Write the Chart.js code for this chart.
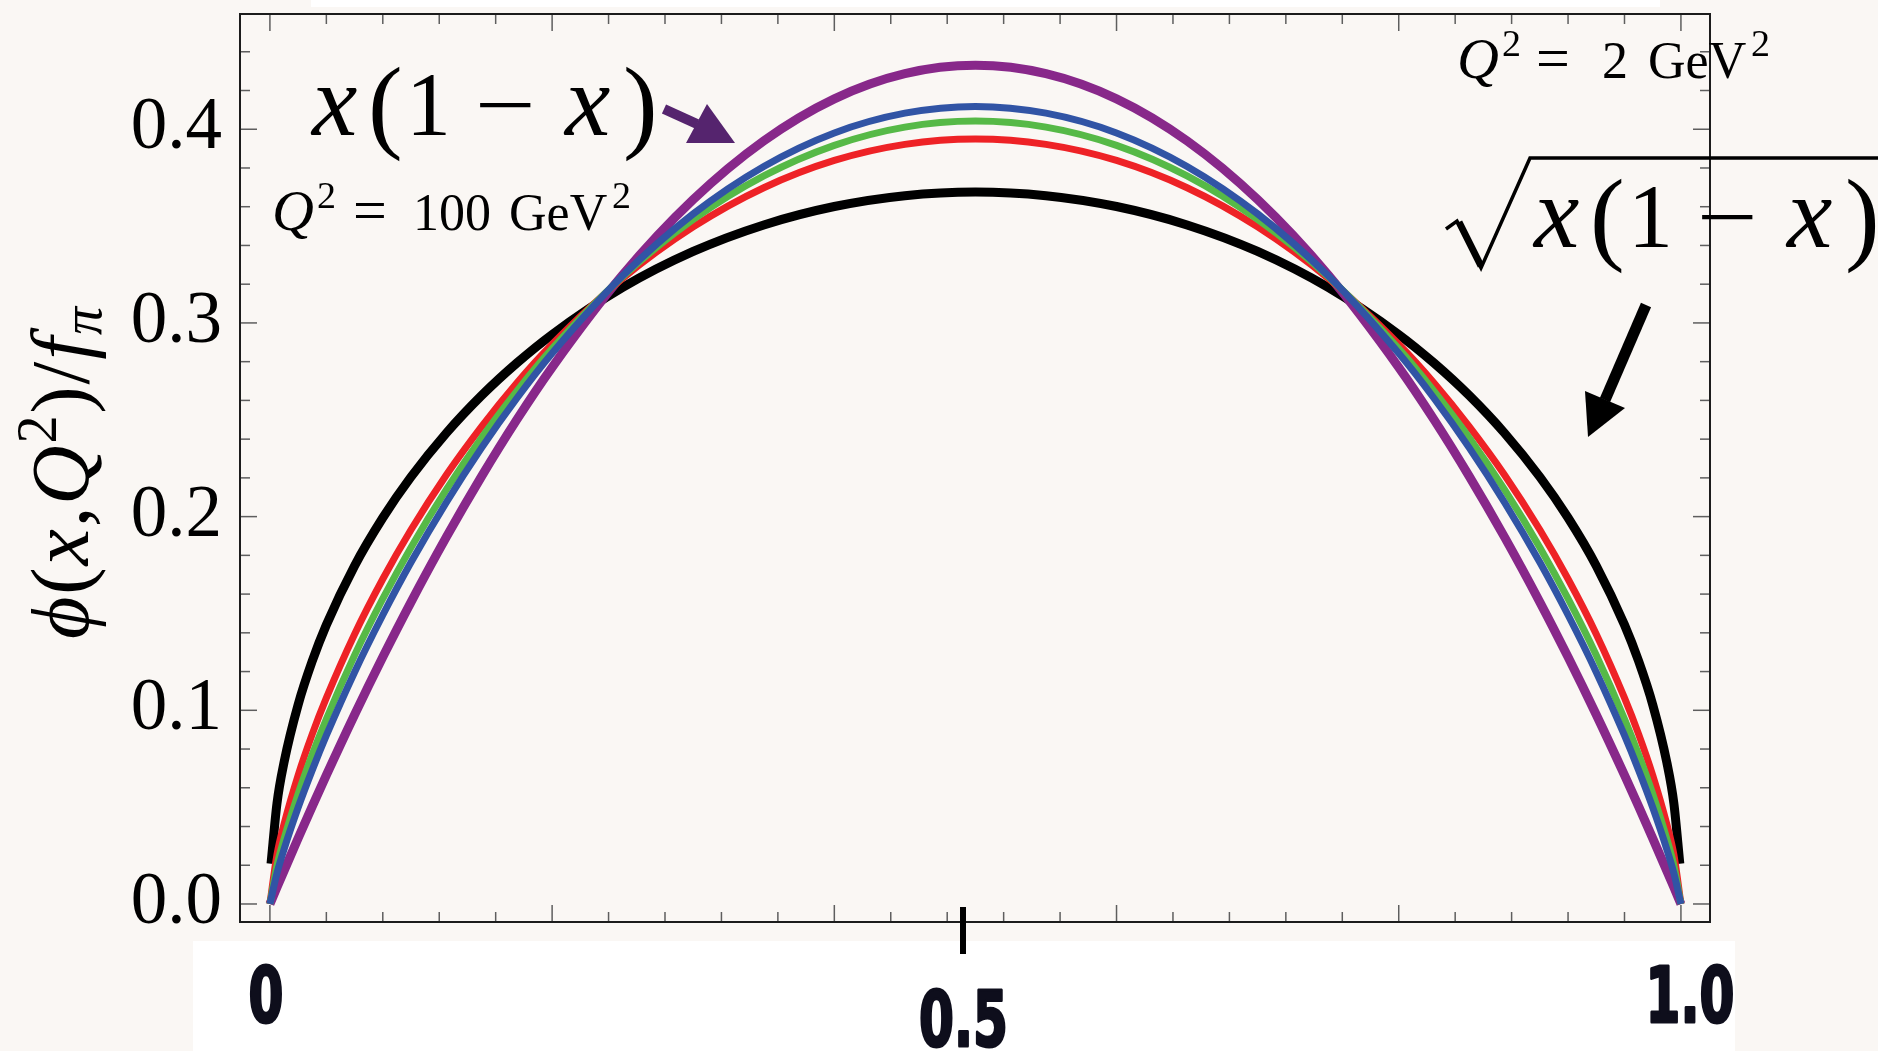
<!DOCTYPE html>
<html>
<head>
<meta charset="utf-8">
<script src="https://cdn.jsdelivr.net/npm/chart.js@4.4.1/dist/chart.umd.min.js"></script>
<style>
  html, body { margin: 0; padding: 0; background: #faf7f4; }
  #wrap { width: 1878px; height: 1051px; }
</style>
</head>
<body>
<div id="wrap"><canvas id="chart" width="1878" height="1051"></canvas></div>
<script>
// x grid shared by the evolved curves and x(1-x)
const xGrid = [0, 0.005, 0.01, 0.02, 0.03, 0.04, 0.06, 0.08, 0.1, 0.125, 0.15, 0.175, 0.2, 0.25, 0.3, 0.35, 0.4, 0.45, 0.5,
  0.55, 0.6, 0.65, 0.7, 0.75, 0.8, 0.825, 0.85, 0.875, 0.9, 0.92, 0.94, 0.96, 0.97, 0.98, 0.99, 0.995, 1];
// the sqrt curve is cut just short of the end points
const xSqrt = [0.0008, 0.005, 0.01, 0.02, 0.03, 0.04, 0.06, 0.08, 0.1, 0.125, 0.15, 0.175, 0.2, 0.25, 0.3, 0.35, 0.4, 0.45, 0.5,
  0.55, 0.6, 0.65, 0.7, 0.75, 0.8, 0.825, 0.85, 0.875, 0.9, 0.92, 0.94, 0.96, 0.97, 0.98, 0.99, 0.995, 0.9992];

const sqrtCurve = [0.0208, 0.0519, 0.0731, 0.1029, 0.1254, 0.1441, 0.1746, 0.1994, 0.2205, 0.2431, 0.2625, 0.2793, 0.2940, 0.3183, 0.3369, 0.3506, 0.3601, 0.3657, 0.3676,
  0.3657, 0.3601, 0.3506, 0.3369, 0.3183, 0.2940, 0.2793, 0.2625, 0.2431, 0.2205, 0.1994, 0.1746, 0.1441, 0.1254, 0.1029, 0.0731, 0.0519, 0.0208];
const asymptotic = [0, 0.0086, 0.0171, 0.0339, 0.0504, 0.0665, 0.0977, 0.1275, 0.1559, 0.1894, 0.2208, 0.2501, 0.2771, 0.3248, 0.3637, 0.3940, 0.4157, 0.4287, 0.4330,
  0.4287, 0.4157, 0.3940, 0.3637, 0.3248, 0.2771, 0.2501, 0.2208, 0.1894, 0.1559, 0.1275, 0.0977, 0.0665, 0.0504, 0.0339, 0.0171, 0.0086, 0];
const q2Low = [0, 0.0255, 0.0412, 0.0665, 0.0877, 0.1064, 0.1393, 0.1678, 0.1932, 0.2215, 0.2465, 0.2690, 0.2890, 0.3230, 0.3496, 0.3698, 0.3839, 0.3922, 0.3950,
  0.3922, 0.3839, 0.3698, 0.3496, 0.3230, 0.2890, 0.2690, 0.2465, 0.2215, 0.1932, 0.1678, 0.1393, 0.1064, 0.0877, 0.0665, 0.0412, 0.0255, 0];
const q2Mid = [0, 0.0198, 0.0336, 0.0569, 0.0772, 0.0955, 0.1284, 0.1576, 0.1841, 0.2139, 0.2407, 0.2648, 0.2867, 0.3239, 0.3534, 0.3759, 0.3917, 0.4011, 0.4042,
  0.4011, 0.3917, 0.3759, 0.3534, 0.3239, 0.2867, 0.2648, 0.2407, 0.2139, 0.1841, 0.1576, 0.1284, 0.0955, 0.0772, 0.0569, 0.0336, 0.0198, 0];
const q2High = [0, 0.0159, 0.0282, 0.0498, 0.0691, 0.0870, 0.1197, 0.1492, 0.1764, 0.2073, 0.2355, 0.2611, 0.2843, 0.3243, 0.3563, 0.3808, 0.3981, 0.4083, 0.4118,
  0.4083, 0.3981, 0.3808, 0.3563, 0.3243, 0.2843, 0.2611, 0.2355, 0.2073, 0.1764, 0.1492, 0.1197, 0.0870, 0.0691, 0.0498, 0.0282, 0.0159, 0];

const xLabelValues = [0, 0.5, 1];
const xLabelTexts = ['0', '0.5', '1.0'];
const xMinorStep = 0.04, xTickCount = 25;
const yMinorStep = 0.02, yTickCount = 22;
const majorEvery = 5;

const paper = '#faf7f4';
const serif = '"Liberation Serif", "DejaVu Serif", serif';

function pts(xs, ys) {
  return xs.map((x, i) => ({ x: x, y: ys[i] }));
}

function line(ctx, x1, y1, x2, y2) {
  ctx.beginPath();
  ctx.moveTo(x1, y1);
  ctx.lineTo(x2, y2);
  ctx.stroke();
}

function put(ctx, text, x, y, size, italic) {
  ctx.font = (italic ? 'italic ' : '') + size + 'px ' + serif;
  ctx.fillText(text, x, y);
  return ctx.measureText(text).width;
}

function arrow(ctx, color, tail, neck, tip, c1, c2, width) {
  ctx.strokeStyle = color;
  ctx.fillStyle = color;
  ctx.lineWidth = width;
  ctx.lineCap = 'butt';
  line(ctx, tail[0], tail[1], neck[0], neck[1]);
  ctx.beginPath();
  ctx.moveTo(tip[0], tip[1]);
  ctx.lineTo(c1[0], c1[1]);
  ctx.lineTo(c2[0], c2[1]);
  ctx.closePath();
  ctx.fill();
}

// x(1-x) drawn glyph by glyph, the way the TeX label is spaced
function bigFraction(ctx, left, base) {
  const g = [['x', 0, true], ['(', 56, false], ['1', 94, false], ['\u2212', 163, false], ['x', 253, true], [')', 311, false]];
  g.forEach(([t, dx, it]) => {
    if (t === '(' || t === ')') put(ctx, t, left + dx, base + 4, 104, false);
    else if (t === 'x') put(ctx, t, left + dx, base, 102, true);
    else if (t === '\u2212') {
      ctx.save();
      ctx.translate(left + dx, base);
      ctx.scale(1.2, 1);
      put(ctx, t, 0, 0, 90, false);
      ctx.restore();
    } else put(ctx, t, left + dx, base, 90, it);
  });
}

function q2Label(ctx, left, base, value) {
  let cx = left;
  cx += put(ctx, 'Q', cx, base, 58, true) + 3;
  put(ctx, '2', cx, base - 22, 38, false);
  return cx;
}

const framePlugin = {
  id: 'framePlugin',
  beforeDraw(chart) {
    const { ctx, width, height } = chart;
    ctx.save();
    ctx.fillStyle = paper;
    ctx.fillRect(0, 0, width, height);
    ctx.fillStyle = '#ffffff';
    ctx.fillRect(311, 0, 1349, 7);
    ctx.fillRect(193, 941, 1542, 110);
    ctx.restore();
  },
  beforeDatasetsDraw(chart) {
    const { ctx, chartArea: a, scales: { x, y } } = chart;
    ctx.save();
    ctx.strokeStyle = '#5e5e5e';
    ctx.lineWidth = 1.5;
    for (let i = 0; i <= xTickCount; i++) {
      const px = x.getPixelForValue(i * xMinorStep);
      const len = i % majorEvery === 0 ? 17 : 10;
      line(ctx, px, a.bottom, px, a.bottom - len);
      line(ctx, px, a.top, px, a.top + len);
    }
    for (let i = 0; i <= yTickCount; i++) {
      const py = y.getPixelForValue(i * yMinorStep);
      const len = i % majorEvery === 0 ? 17 : 10;
      line(ctx, a.left, py, a.left + len, py);
      line(ctx, a.right, py, a.right - len, py);
    }
    ctx.strokeStyle = '#1c1c1c';
    ctx.lineWidth = 2;
    ctx.strokeRect(a.left, a.top, a.right - a.left, a.bottom - a.top);
    ctx.restore();
  },
  afterDraw(chart) {
    const { ctx, scales: { x } } = chart;
    ctx.save();
    ctx.fillStyle = '#000';
    ctx.textBaseline = 'alphabetic';
    ctx.textAlign = 'left';

    // y axis title, rotated
    const parts = [['\u03d5', 1, 0, 82], ['(', 0, 0, 82], ['x', 1, 0, 82], [',', 0, 0, 82], ['Q', 1, 0, 82],
      ['2', 0, -32, 56], [')', 0, 0, 82], ['/', 0, 0, 82], ['f', 1, 0, 82], ['\u03c0', 1, 13, 56]];
    let total = 0;
    const widths = parts.map(([t, it, , s]) => {
      ctx.font = (it ? 'italic ' : '') + s + 'px ' + serif;
      const w = ctx.measureText(t).width;
      total += w;
      return w;
    });
    const gap = Math.max(0, (332 - total) / (parts.length - 1));
    ctx.save();
    ctx.translate(88, 639);
    ctx.rotate(-Math.PI / 2);
    let cx = 0;
    parts.forEach(([t, it, dy, s], i) => {
      put(ctx, t, cx, dy, s, it);
      cx += widths[i] + gap;
    });
    ctx.restore();

    // Q^2 labels
    q2Label(ctx, 272, 230);
    put(ctx, '=', 353, 230, 60, false);
    put(ctx, '100', 413, 230, 52, false);
    put(ctx, 'GeV', 509, 230, 52, false);
    put(ctx, '2', 612, 208, 38, false);

    q2Label(ctx, 1457, 78);
    put(ctx, '=', 1536, 78, 60, false);
    put(ctx, '2', 1602, 78, 52, false);
    put(ctx, 'GeV', 1648, 78, 52, false);
    put(ctx, '2', 1751, 56, 38, false);

    // x(1-x) and sqrt(x(1-x))
    bigFraction(ctx, 312, 135);
    bigFraction(ctx, 1534, 247);
    ctx.strokeStyle = '#000';
    ctx.lineJoin = 'miter';
    ctx.lineWidth = 3.5;
    ctx.beginPath();
    ctx.moveTo(1446, 229);
    ctx.lineTo(1457, 221);
    ctx.lineTo(1481, 268);
    ctx.lineTo(1530, 158);
    ctx.lineTo(1878, 158);
    ctx.stroke();
    ctx.lineWidth = 7;
    line(ctx, 1459, 222, 1481, 266);

    arrow(ctx, '#55246e', [664, 109], [697, 124], [735, 143], [707, 104], [686, 143], 10);
    arrow(ctx, '#000000', [1646, 305], [1605, 400], [1588, 437], [1585, 391], [1625, 408], 11);

    // pasted x tick labels
    ctx.fillStyle = '#000';
    ctx.fillRect(960, 907, 6, 47);
    const offs = [[-4, 1022], [-12, 1046], [9, 1022]];
    ctx.fillStyle = '#0e0e1c';
    ctx.strokeStyle = '#0e0e1c';
    ctx.lineWidth = 3;
    ctx.lineJoin = 'round';
    ctx.font = 'bold 76px "DejaVu Sans", sans-serif';
    ctx.textAlign = 'center';
    xLabelValues.forEach((v, i) => {
      const px = x.getPixelForValue(v) + offs[i][0];
      ctx.save();
      ctx.translate(px, offs[i][1]);
      ctx.scale(0.66, 1);
      ctx.fillText(xLabelTexts[i], 0, 0);
      ctx.strokeText(xLabelTexts[i], 0, 0);
      ctx.restore();
    });
    ctx.restore();
  }
};

function curve(data, color, width, order) {
  return {
    data: data,
    borderColor: color,
    borderWidth: width,
    pointRadius: 0,
    fill: false,
    cubicInterpolationMode: 'monotone',
    borderCapStyle: 'butt',
    borderJoinStyle: 'round',
    order: order
  };
}

new Chart(document.getElementById('chart'), {
  type: 'line',
  data: {
    datasets: [
      curve(pts(xGrid, q2High), '#3154a5', 7, 0),
      curve(pts(xGrid, q2Mid), '#56b947', 7, 1),
      curve(pts(xGrid, q2Low), '#ee2226', 7, 2),
      curve(pts(xGrid, asymptotic), '#88288a', 9, 3),
      curve(pts(xSqrt, sqrtCurve), '#000000', 9, 4)
    ]
  },
  options: {
    responsive: false,
    animation: false,
    layout: { padding: { left: 0, right: 168, top: 14, bottom: 129 } },
    plugins: { legend: { display: false }, tooltip: { enabled: false } },
    scales: {
      x: {
        type: 'linear',
        min: -0.0212,
        max: 1.0206,
        display: false
      },
      y: {
        min: -0.0093,
        max: 0.4595,
        grid: { display: false, drawTicks: false },
        border: { display: false },
        afterFit(scale) {
          scale.width = 240;
          scale.paddingTop = 0;
          scale.paddingBottom = 0;
        },
        ticks: {
          stepSize: 0.1,
          includeBounds: false,
          padding: 18,
          color: '#000',
          font: { family: 'Liberation Serif', size: 73 },
          callback: (v) => v.toFixed(1)
        }
      }
    }
  },
  plugins: [framePlugin]
});
</script>
</body>
</html>
